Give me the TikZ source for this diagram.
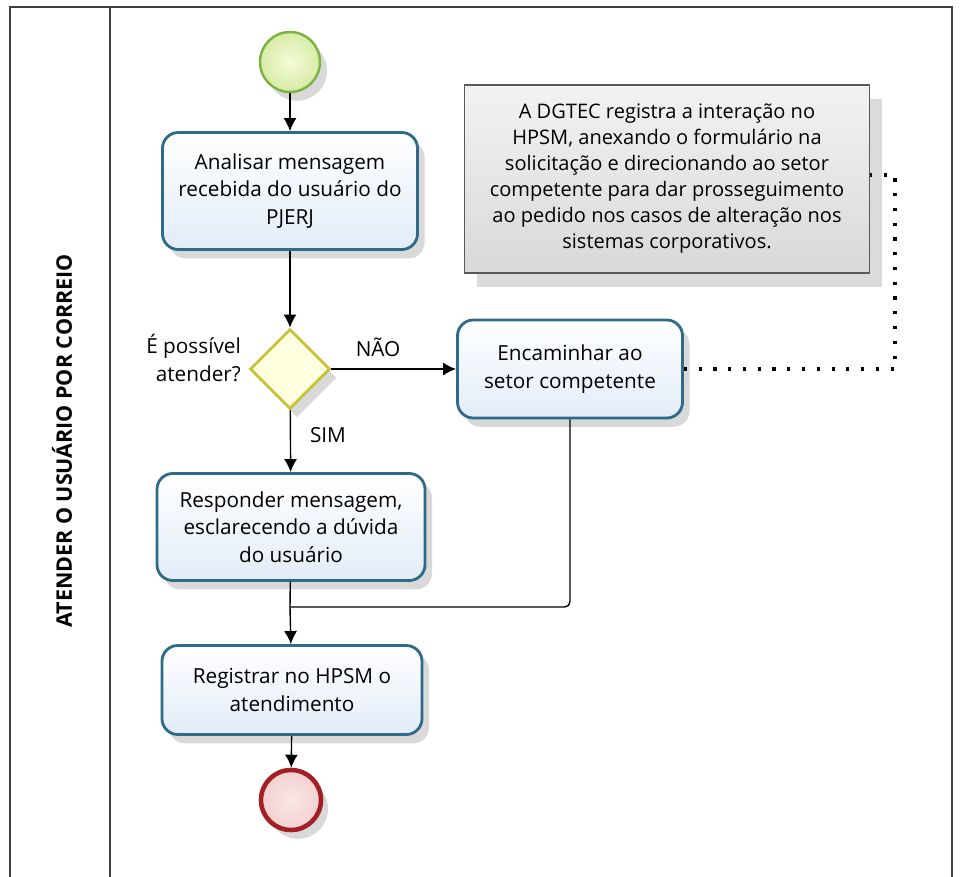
\documentclass[tikz,border=0pt]{standalone}
\usepackage{fontspec}
\setmainfont{Open Sans}
\usepackage{tikz}
\usetikzlibrary{shapes,arrows}
\usetikzlibrary{arrows.meta}
\usetikzlibrary{shapes.geometric,shadows}
\definecolor{taskline}{HTML}{2E6B8A}
\definecolor{taskfill}{HTML}{E2ECF8}
\definecolor{startline}{HTML}{7CB342}
\definecolor{startfill}{HTML}{EEF9C0}
\definecolor{gateline}{HTML}{C9C23A}
\definecolor{gatefill}{HTML}{FFFFE0}
\definecolor{endline}{HTML}{A31F24}
\definecolor{endfill}{HTML}{F4D0D0}
\tikzset{
  shade/.style={drop shadow={shadow xshift=4pt, shadow yshift=-5pt, opacity=0.15, fill=black}},
  task/.style={rounded corners=9pt, draw=taskline, line width=1.6pt, top color=white, bottom color=taskfill,
    shade, align=center, font=\fontsize{11.8}{15.5}\selectfont, inner sep=2pt},
  startev/.style={circle, draw=startline, line width=1.4pt, inner color=startfill!60, outer color=startfill!80!startline,
    minimum size=1.2cm, shade},
  endev/.style={circle, draw=endline, line width=2.6pt, inner color=endfill!50, outer color=endfill,
    minimum size=1.2cm, shade},
  gateway/.style={diamond, draw=gateline, line width=1.6pt, fill=gatefill, minimum width=1.6cm,
    minimum height=1.6cm, inner sep=0pt, shade},
  note/.style={draw=gray!70!black, line width=0.6pt, top color=gray!10, bottom color=gray!30,
    drop shadow={shadow xshift=7pt, shadow yshift=-8pt, opacity=0.14, fill=black},
    align=center, font=\fontsize{11.4}{14.8}\selectfont},
  flowlabel/.style={font=\fontsize{11.8}{15.5}\selectfont},
  lane/.style={draw=black!75, line width=1pt}
}
\newcommand{\bpstart}[2] {\node at (#1) (#2) [startev] {};}
\newcommand{\bpend}[2] {\node at (#1) (#2) [endev] {};}
\newcommand{\bpgate}[2] {\node at (#1) (#2) [gateway] {};}
\newcommand{\bptask}[4] {\node at (#1) (#2) [task, #3] {#4};}
\newcommand{\bpflow}[2] {\draw [-{Latex[length=2.6mm,width=2.6mm]}, line width=0.8pt] (#1) -- (#2);}

\begin{document}
\begin{tikzpicture}[x=0.2mm, y=-0.2mm]
\useasboundingbox (0,0) rectangle (962,877);

% pool and lane
\draw [lane] (10,877) -- (10,7) -- (952,7) -- (952,877);
\draw [lane] (110,7) -- (110,877);
\node at (62,441) (lanename) [rotate=90, font=\fontsize{12.2}{14}\selectfont\bfseries] {ATENDER O USUÁRIO POR CORREIO};

\bpstart {290,62} {start};
\bptask {290,191} {analisar} {minimum width=5.1cm, minimum height=2.34cm} {Analisar mensagem\\recebida do usuário do\\PJERJ};
\bpgate {290,369} {gate};
\bptask {570,369} {encaminhar} {minimum width=4.5cm, minimum height=1.96cm} {Encaminhar ao\\setor competente};
\bptask {291,527} {responder} {minimum width=5.36cm, minimum height=2.14cm} {Responder mensagem,\\esclarecendo a dúvida\\do usuário};
\bptask {292,690} {registrar} {minimum width=5.2cm, minimum height=1.78cm} {Registrar no HPSM o\\atendimento};
\bpend {291,800} {end};

\node at (667,179) (nota) [note, minimum width=8.1cm, minimum height=3.76cm]
  {A DGTEC registra a interação no\\HPSM, anexando o formulário na\\solicitação e direcionando ao setor\\competente para dar prosseguimento\\ao pedido nos casos de alteração nos\\sistemas corporativos.};

\node at (247,358) (pergunta) [flowlabel, anchor=east, align=right] {É possível\\atender?};
\node at (378,347) (nao) [flowlabel] {NÃO};
\node at (328,435) (sim) [flowlabel] {SIM};

\coordinate (juncao) at (290,607);

\bpflow{start}{analisar};
\bpflow{analisar}{gate};
\bpflow{gate}{encaminhar};
\bpflow{gate}{responder};
\draw [line width=0.8pt] (responder) -- (juncao);
\draw [line width=0.8pt, rounded corners=3pt] (encaminhar.south) |- (juncao);
\bpflow{juncao}{registrar};
\bpflow{registrar}{end};

% association to the note
\coordinate (canto) at (895,369);
\coordinate (topo) at (895,175);
\draw [line width=1.8pt, dash pattern=on 1.8pt off 6.6pt] (encaminhar.east) -- (canto) -- (topo) -- (nota.east |- topo);
\end{tikzpicture}
\end{document}
